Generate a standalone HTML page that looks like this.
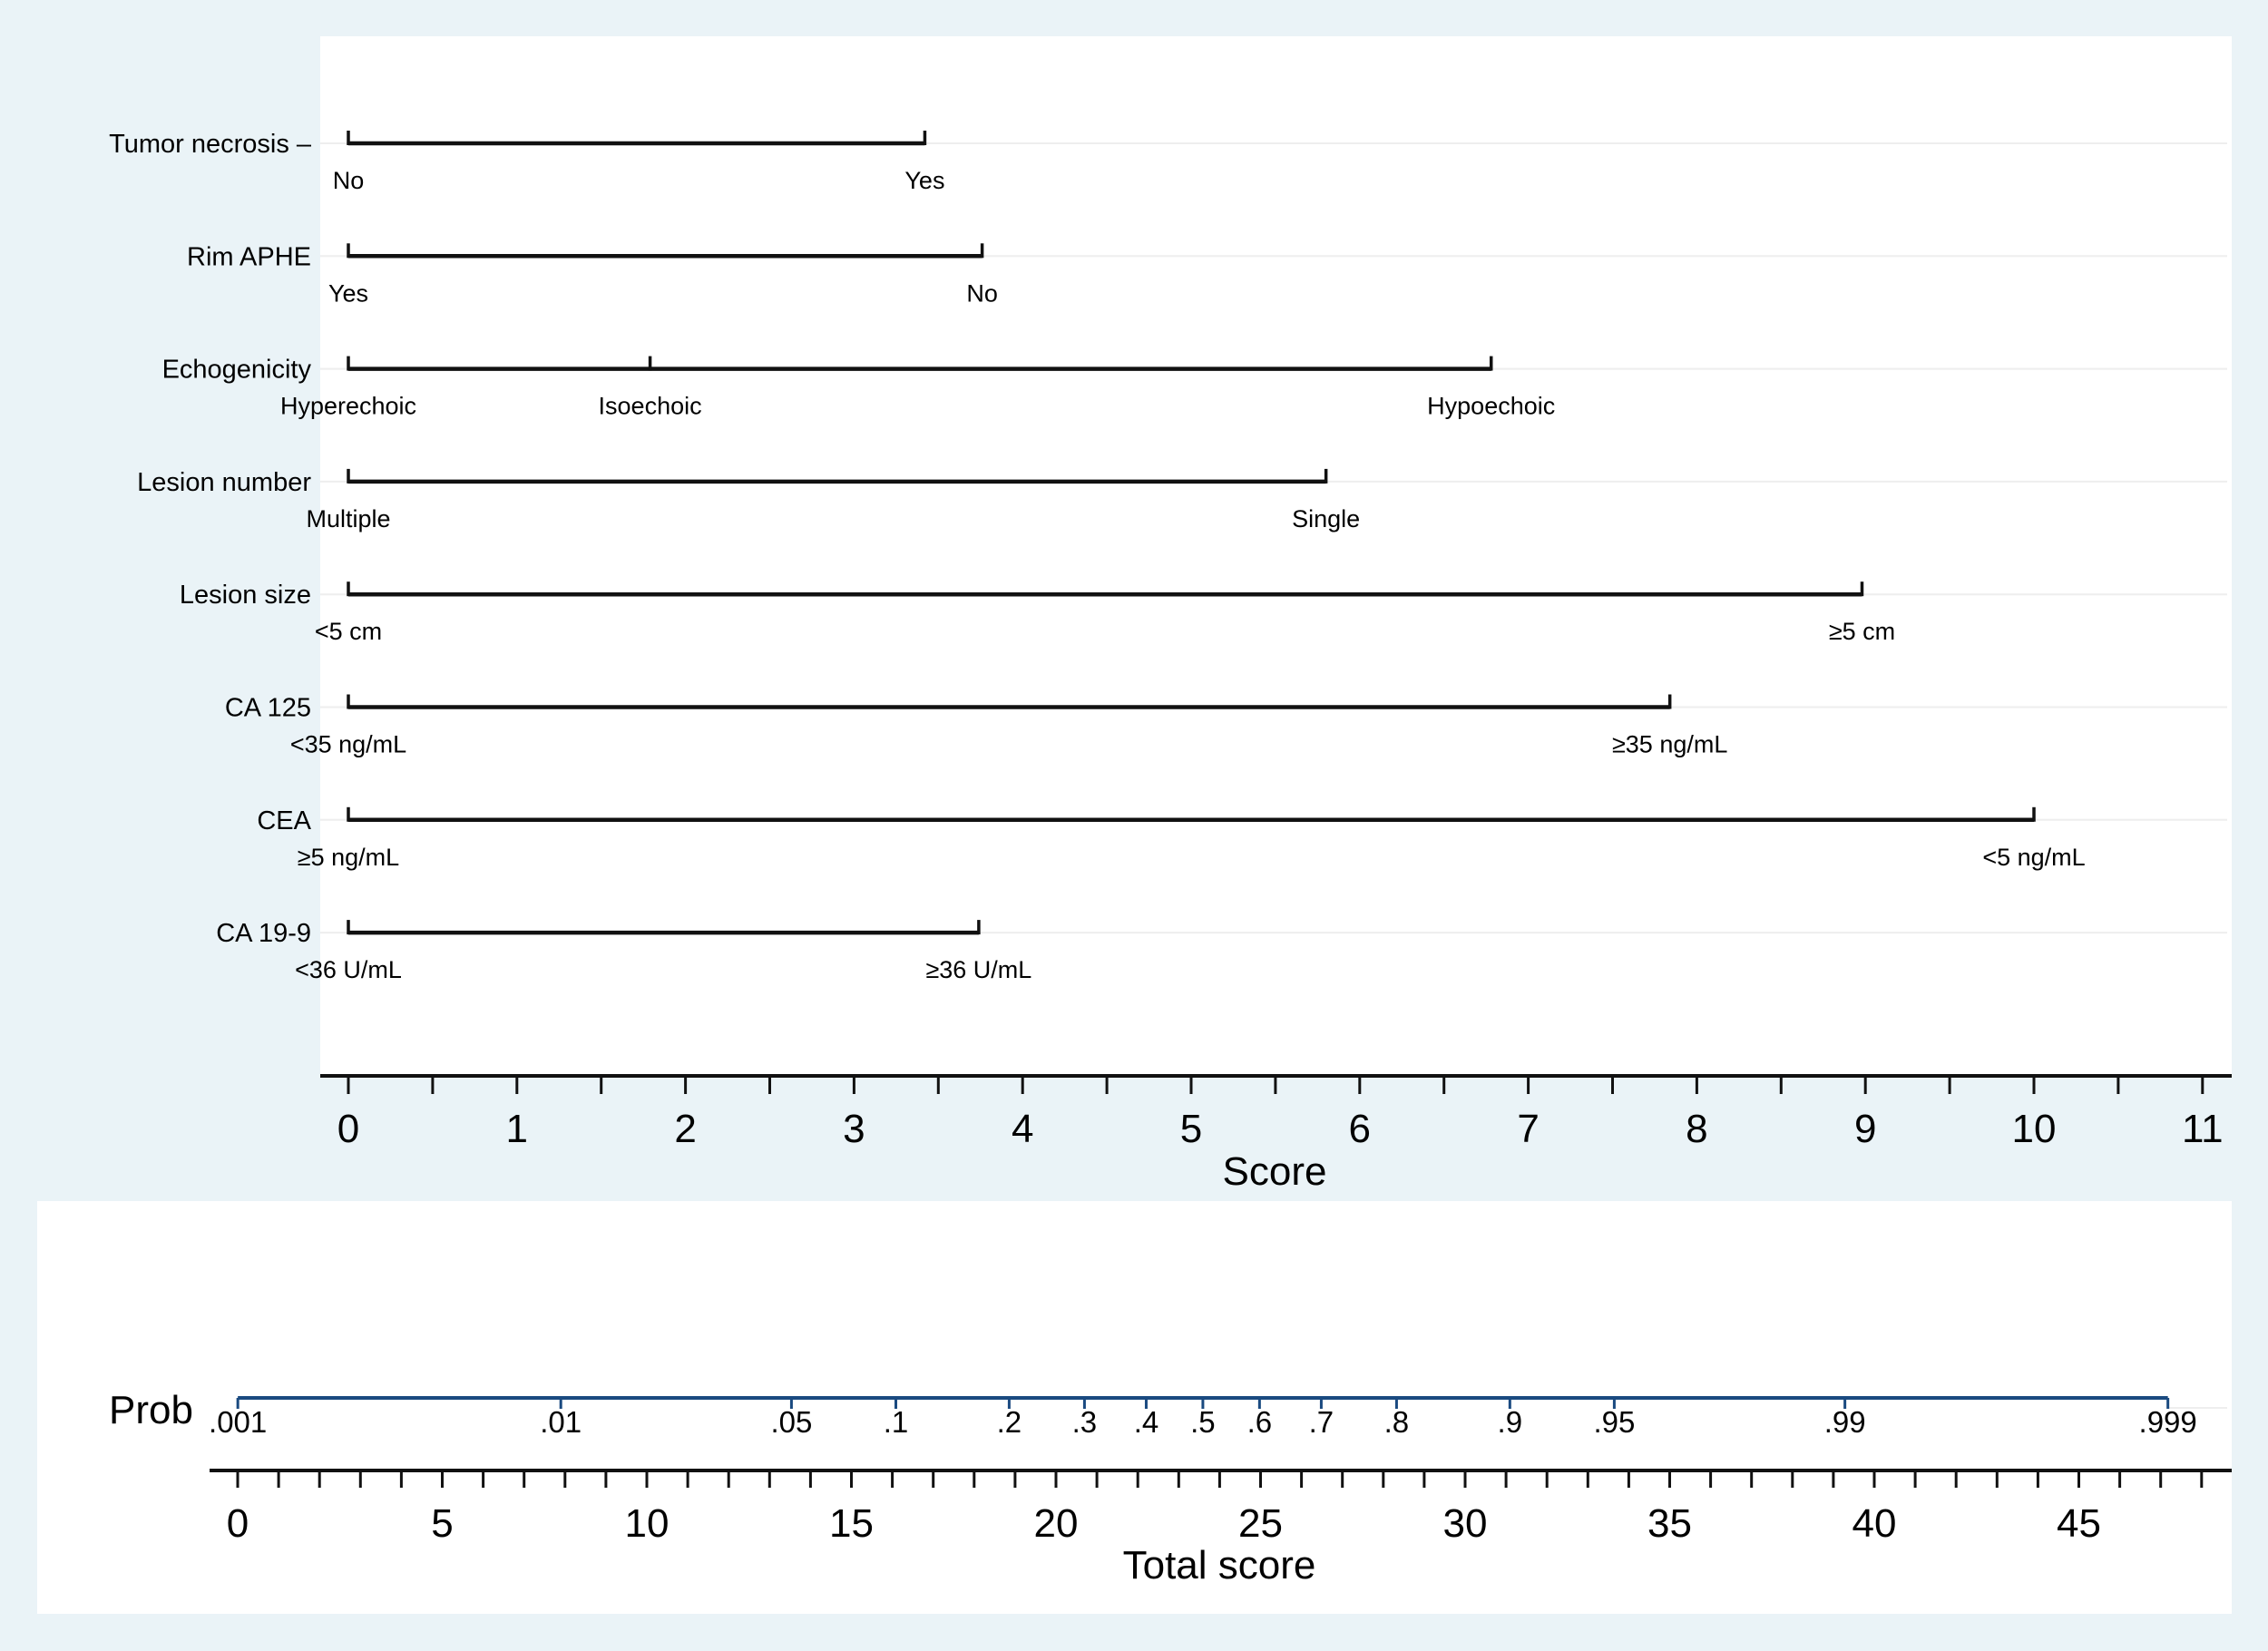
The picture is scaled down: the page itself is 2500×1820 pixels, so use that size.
<!DOCTYPE html>
<html><head><meta charset="utf-8"><style>
html,body{margin:0;padding:0;background:#eaf3f7}
svg{display:block}
text{font-family:"Liberation Sans",Arial,sans-serif;fill:#000}
</style></head><body>
<svg id="chart" width="2500" height="1820" viewBox="0 0 2500 1820" xmlns="http://www.w3.org/2000/svg">
<rect x="0" y="0" width="2500" height="1820" fill="#eaf3f7"/>
<rect x="353" y="40" width="2107" height="1145" fill="#ffffff"/>
<rect x="41" y="1324" width="2419" height="455" fill="#ffffff"/>
<g id="g"></g>
</svg>
<script>
const varNames = ["Tumor necrosis","Rim APHE","Echogenicity","Lesion number","Lesion size","CA 125","CEA","CA 19-9"];
const levelLabels = [["No","Yes"],["Yes","No"],["Hyperechoic","Isoechoic","Hypoechoic"],["Multiple","Single"],["<5 cm","≥5 cm"],["<35 ng/mL","≥35 ng/mL"],["≥5 ng/mL","<5 ng/mL"],["<36 U/mL","≥36 U/mL"]];
const levelScores = [[0,3.42],[0,3.76],[0,1.79,6.78],[0,5.80],[0,8.98],[0,7.84],[0,10.0],[0,3.74]];
const scoreTicks = [0,1,2,3,4,5,6,7,8,9,10,11];
const totalTicks = [0,5,10,15,20,25,30,35,40,45];
const probTicks = [0.001,0.01,0.05,0.1,0.2,0.3,0.4,0.5,0.6,0.7,0.8,0.9,0.95,0.99,0.999];
const probLabels = [".001",".01",".05",".1",".2",".3",".4",".5",".6",".7",".8",".9",".95",".99",".999"];

const NS="http://www.w3.org/2000/svg";
const g=document.getElementById('g');
function mk(tag,attrs,txt){const e=document.createElementNS(NS,tag);for(const k in attrs)e.setAttribute(k,attrs[k]);if(txt!==undefined)e.textContent=txt;g.appendChild(e);return e;}
const sx=v=>384+v*185.8;
const tx=v=>262+v*45.1;
const logit=p=>Math.log(p/(1-p));
const px=p=>tx(23.59+logit(p)*3.415);
const rowY=i=>158+i*124.3;

varNames.forEach((name,i)=>{
  const y=rowY(i);
  let e=mk('line',{x1:353,x2:2455,y1:y,y2:y,stroke:'#eeeeee','stroke-width':2});
  
  e=mk('text',{x:343,y:y+10,'font-size':29,'text-anchor':'end'},name+(i===0?' \u2013':''));
  
  const sc=levelScores[i];
  const mx=Math.max(...sc);
  e=mk('line',{x1:sx(0),x2:sx(mx),y1:y,y2:y,stroke:'#111','stroke-width':4.5});
  
  sc.forEach((s,j)=>{
    let t=mk('line',{x1:sx(s),x2:sx(s),y1:y-14,y2:y+2,stroke:'#111','stroke-width':3.5});
    
    t=mk('text',{x:sx(s),y:y+50,'font-size':27,'text-anchor':'middle'},levelLabels[i][j]);
    
  });
});

let e=mk('line',{x1:353,x2:2460,y1:1186,y2:1186,stroke:'#111','stroke-width':4});

for(let v=0;v<=11;v+=0.5){
  const t=mk('line',{x1:sx(v),x2:sx(v),y1:1186,y2:1206,stroke:'#111','stroke-width':3});
  
}
scoreTicks.forEach(v=>{
  const t=mk('text',{x:sx(v),y:1259,'font-size':44,'text-anchor':'middle'},String(v));
  
});
e=mk('text',{x:1405,y:1306,'font-size':44,'text-anchor':'middle'},'Score');


e=mk('line',{x1:2390,x2:2455,y1:1552,y2:1552,stroke:'#eeeeee','stroke-width':2});

e=mk('line',{x1:px(0.001),x2:px(0.999),y1:1541,y2:1541,stroke:'#1a4a80','stroke-width':4});

probTicks.forEach((p,i)=>{
  let t=mk('line',{x1:px(p),x2:px(p),y1:1541,y2:1553,stroke:'#1a4a80','stroke-width':3});
  
  t=mk('text',{x:px(p),y:1579,'font-size':33,'text-anchor':'middle'},probLabels[i]);
  
});
e=mk('text',{x:120,y:1569,'font-size':44},'Prob');


e=mk('line',{x1:231,x2:2460,y1:1621,y2:1621,stroke:'#111','stroke-width':4});

for(let v=0;v<=48;v++){
  const t=mk('line',{x1:tx(v),x2:tx(v),y1:1621,y2:1640,stroke:'#111','stroke-width':3});
  
}
totalTicks.forEach(v=>{
  const t=mk('text',{x:tx(v),y:1694,'font-size':44,'text-anchor':'middle'},String(v));
  
});
e=mk('text',{x:1344,y:1740,'font-size':44,'text-anchor':'middle'},'Total score');

</script>
</body></html>
